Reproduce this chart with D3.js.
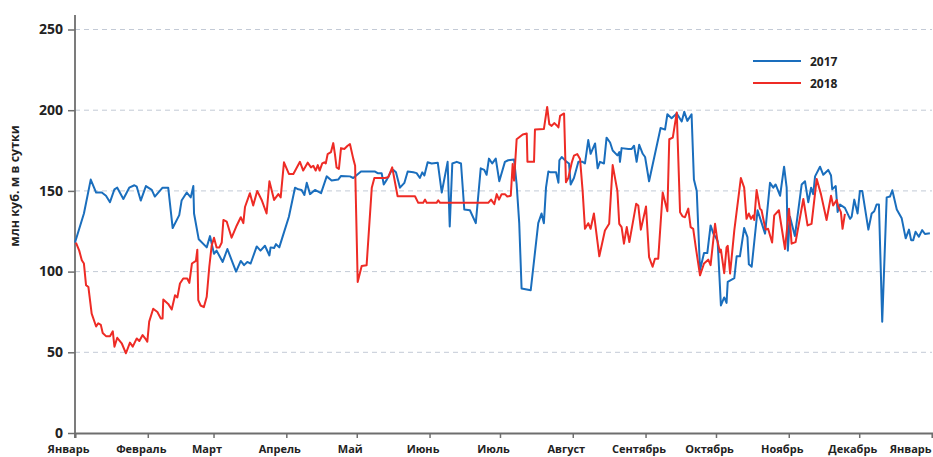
<!DOCTYPE html>
<html>
<head>
<meta charset="utf-8">
<script src="https://cdn.jsdelivr.net/npm/d3@7"></script>
<style>
  body { margin: 0; background: #fff; }
  text { font-family: "Open Sans", "Noto Sans", sans-serif; font-weight: bold; fill: #222; }
</style>
</head>
<body>
<script>
var w = 933;
var h = 457;

// months: label and first day of month (day of year)
var monthLabels = ["Январь", "Февраль", "Март", "Апрель", "Май", "Июнь", "Июль",
                   "Август", "Сентябрь", "Октябрь", "Ноябрь", "Декабрь", "Январь"];
var monthDays = [0, 31, 59, 90, 120, 151, 181, 212, 243, 273, 304, 334, 365];
var yTicks = [0, 50, 100, 150, 200, 250];
var seriesNames = ["2017", "2018"];

// 2017 (day of year, value)
var days2017 = [0, 3.8, 6.7, 9, 11.4, 13.2, 14.9, 16.8, 18, 20.6, 23.1, 25.3, 26.3, 28, 30.2, 32.7, 34, 37.3, 39.7,
  41.6, 44.4, 45.4, 47.6, 49.3, 50.4, 50.7, 52.7, 56.1, 57.5, 59.2, 60.3, 62.9, 64.9, 67.4, 68.6, 70.6, 72, 73.4,
  74.8, 77.4, 79, 80.9, 82.8, 83.3, 84.8, 85.6, 87, 88.5, 91.1, 93.7, 95.1, 96.5, 97.7, 98.7, 100.1, 102.2, 104.8,
  107.2, 109.3, 112.1, 113.3, 117.1, 118.5, 121.8, 127.8, 128.9, 130.6, 131.5, 132.8, 134.6, 135.6, 136.7, 138.4,
  140.3, 141.7, 144.1, 145.5, 146.9, 147.9, 148.8, 150.2, 151.9, 154.5, 156.2, 158.7, 159.6, 160.7, 162.6, 164.4,
  165.8, 168.2, 170.7, 172.8, 174.3, 175.3, 176.3, 177.7, 179.2, 180.7, 183.1, 184.5, 187, 188.1, 189.2, 190.2,
  194.1, 197.3, 198.7, 199.7, 200.6, 201.6, 202.6, 204.9, 205.9, 206.3, 207.3, 209.4, 210.4, 211.1, 212.5, 214.4,
  216.2, 217.2, 218.6, 219.6, 221.5, 222.6, 223.6, 225.3, 226.4, 227.9, 229, 231, 231.8, 232.1, 232.8, 235.7,
  237.1, 238.1, 239.2, 240.3, 241.8, 242.8, 244.5, 249.4, 251.3, 252.3, 254.1, 256.3, 258.4, 259.5, 260.8, 262.6,
  263.6, 264.8, 266.2, 267.9, 269.3, 270.7, 271.9, 273, 273.7, 275.1, 276.5, 277.5, 278, 280.8, 281.8, 283.2, 285,
  286.4, 287, 288.2, 290.7, 293.9, 296, 297.4, 298.4, 300.3, 302, 303.1, 303.6, 304.5, 306.6, 309.5, 310.9, 312.3,
  313.5, 314.4, 315.2, 317.3, 318.7, 320.8, 322, 322.5, 324, 324.8, 325.8, 327.9, 330.1, 330.8, 331.9, 333.3,
  334.3, 335.3, 337.9, 339.3, 340.4, 341.4, 342.4, 343.8, 345.7, 347.1, 348.1, 350, 352.1, 353.8, 355.2, 356.1,
  357, 358, 359.4, 360.8, 362, 364.1];
var values2017 = [118, 136, 157, 149, 149, 147, 143, 151, 152, 145, 152, 153.5, 152.6, 144, 153, 150.6, 146.5, 152, 152,
  127, 135, 144, 149, 146, 153, 136, 120, 115, 122, 111, 113, 106, 114, 104.5, 100, 106.6, 104, 106,
  105, 115.6, 113, 116, 110, 115, 114.6, 117, 115, 122, 134, 152, 151, 150.6, 147.5, 155, 148, 150.6, 148.6,
  159, 156.4, 157, 159.3, 159, 158, 162, 162, 161, 161, 154, 157, 162, 163, 161.5, 152,
  155, 162, 161.5, 161, 158, 161.5, 159.5, 167.7, 167, 167.5, 149, 168, 128, 167, 168, 167,
  138.5, 138, 130, 164, 163, 160, 170, 167, 170, 156, 168, 169, 169.5, 154, 130, 89.5,
  88.5, 130, 136, 130, 152, 162, 161.5, 161.5, 155, 169, 171, 168, 167, 154, 158, 168,
  168, 167, 181.5, 173, 179.4, 164, 168, 167, 183, 180, 175, 172, 174, 168, 176.5, 176,
  176, 178, 168, 178.6, 173, 171, 156, 189, 188, 197.5, 195, 198, 193, 199, 193.4, 197.5,
  157, 150, 101, 111.5, 111.5, 128.6, 123.5, 121, 119, 79, 84, 80.6, 93.6, 96, 109.5, 109.5, 127,
  121.4, 104.5, 103, 138, 123.5, 155, 152, 154, 147, 165, 152, 113, 134, 122, 154, 156, 143,
  152, 148, 159, 165, 160, 163, 159.5, 151, 153, 137, 141.6, 139.5, 132.7, 134, 144.6, 136,
  150, 150, 126, 136, 137.4, 141.6, 141.6, 69, 146, 146.5, 150.4, 138.5, 133, 120.6, 126, 119.5,
  119.5, 124.7, 121.6, 125.7, 123.3, 123.7];

// 2018 (day of year, value)
var days2018 = [0.4, 1.8, 2.9, 3.8, 4.7, 5.7, 7.1, 9, 9.9, 11, 11.8, 13.2, 14.9, 16.1, 16.8, 18, 19.9, 21.7, 23.4,
  24.6, 26.3, 27.4, 28.8, 30.2, 30.8, 31.6, 33.3, 35.1, 36.5, 37.3, 37.6, 39.7, 41.2, 42.6, 43.6, 44.7, 46.1,
  47.8, 48.7, 49.8, 51.5, 52.1, 52.5, 53.5, 54.9, 56.1, 57.2, 58.2, 59.2, 60.3, 61.5, 62.5, 63.2, 64.6, 66.7,
  68.9, 70.6, 71.7, 72.4, 74.5, 75.9, 77.6, 79.5, 81.6, 82.8, 84.8, 86.6, 87.6, 89, 91.1, 93, 95.8, 97.2, 99.1,
  100.5, 101.5, 102.5, 103.4, 104.2, 105.3, 106.2, 106.8, 107.6, 109, 110, 110.7, 111.4, 112.4, 113.3, 114.7,
  116.1, 117.1, 118.5, 119.3, 120.4, 122.1, 124.2, 126.4, 127.5, 132, 133.4, 135.1, 137.4, 144.8, 146.2, 148.3,
  149.1, 149.8, 154, 154.7, 155.5, 176, 177.2, 178.6, 179.6, 180.6, 181.7, 183.1, 184.1, 185.6, 186.4, 187,
  188.1, 190.7, 192.4, 192.7, 195.5, 195.9, 199.7, 201.1, 202, 203, 204.1, 205.1, 205.9, 206.6, 208.3, 209.1,
  210.1, 211.6, 212.5, 213.9, 215.1, 216.2, 217.2, 218.6, 219.6, 221, 223.3, 225.7, 227.5, 229, 231, 231.8,
  232.8, 233.8, 235, 236.1, 239, 239.9, 241, 243.2, 244.5, 246, 247, 248.4, 250.3, 252.3, 253.1, 254.6, 256.3,
  257.7, 258.8, 259.8, 261.2, 262.2, 263.3, 264.4, 266.2, 267.9, 269.7, 270.7, 272.6, 273.6, 274.7, 275.1,
  276.5, 277.5, 278, 279, 280.8, 283.6, 285, 286, 287, 287.9, 288.9, 289.3, 290.3, 291.7, 292.4, 294.1, 295.2,
  296.9, 297.8, 299.8, 302.4, 304.1, 305.2, 306.9, 310.2, 312, 313.7, 315.9, 317.7, 320.1, 322, 322.9, 324.4,
  325.1, 326.2, 326.9, 327.9];
var values2018 = [118, 113, 107, 105, 91.6, 90.5, 74, 66, 68, 67, 62, 60, 60, 63, 53.5, 59, 55.6, 49.4, 56,
  53.5, 58.6, 57, 60.7, 58, 56.6, 69, 77, 75, 71, 71, 82.7, 80, 76.5, 85.4, 84, 92.6, 95.7,
  95.7, 93, 105, 106.6, 113.6, 82.3, 79, 78, 84.4, 103, 116, 121, 115, 115, 118, 132, 131, 121,
  128.6, 133.7, 130, 140, 148.6, 141, 150, 144.4, 136, 156, 144.4, 148, 146, 167.7, 160.5, 160.5, 168, 162.6, 167.5,
  164.6, 165.6, 162.6, 166, 162.6, 167, 167.7, 167, 172.8, 174, 179.6, 172.8, 164.6, 163.6, 176.5, 176,
  178, 179, 170, 165.6, 93.6, 103.5, 104, 152, 158, 158, 158.4, 164.6, 146.7, 146.7, 142.6, 142.6,
  144.6, 142.6, 142.6, 144.2, 142.6, 142.6, 144.6, 141.8, 148, 144.6, 148, 148, 146.5, 147, 166.7, 156.4,
  182, 185, 185.6, 168, 168, 188, 188.3, 202, 191.4, 190.3, 192, 190.7, 189.3, 196.5, 198, 155.3,
  158, 167.7, 171.8, 172.8, 169.8, 150, 126.5, 130, 126.5, 136, 109.5, 125.5, 129.6, 166, 150, 129.6,
  127.6, 117.3, 127.6, 118.3, 142, 141, 126, 140.3, 109, 103, 108, 108, 149, 137.4, 182, 183, 198.6,
  136.8, 134.2, 133.7, 139, 127.6, 126.5, 115, 97.7, 105, 107.4, 104, 129.6, 119, 112, 113.6,
  99, 115, 116, 98.8, 125.5, 158, 152, 132.7, 136, 132.7, 134.8, 132, 150.6, 139, 138, 126, 126.5,
  118, 134.8, 138, 114, 139, 117.3, 118.3, 145, 128.6, 129.6, 157.4, 148, 132, 147, 141, 144.4,
  140.3, 136.8, 126.5, 135.8];

var colors = ["#1a6ebd", "#ee2b25"];

var svg = d3.select("body")
            .append("svg")
            .attr("width", w)
            .attr("height", h);

var x = d3.scaleLinear().domain([0, 365]).range([75, 932]);
var y = d3.scaleLinear().domain([0, 250]).range([433, 29.5]);

// dashed grid lines
svg.selectAll("line.grid")
   .data(yTicks.slice(1))
   .enter()
   .append("line")
   .attr("class", "grid")
   .attr("x1", x(0))
   .attr("x2", x(365))
   .attr("y1", function(d){ return y(d); })
   .attr("y2", function(d){ return y(d); })
   .attr("stroke", "#c3cad6")
   .attr("stroke-width", 1)
   .attr("stroke-dasharray", "5,4");

// left axis
var yAxis = svg.append("g")
   .attr("transform", "translate(" + x(0) + ",0)")
   .call(d3.axisLeft(y).tickValues(yTicks).tickSize(7).tickPadding(5));
yAxis.select(".domain").remove();
yAxis.selectAll("line").attr("stroke", "#6e6e6e").attr("stroke-width", 1.5);
yAxis.selectAll("text").attr("font-size", "14px").attr("fill", "#222").attr("dy", "0.3em");

svg.append("line")
   .attr("x1", x(0)).attr("x2", x(0))
   .attr("y1", 15).attr("y2", y(0) + 5)
   .attr("stroke", "#6e6e6e")
   .attr("stroke-width", 1.8);

// bottom axis
var last = monthDays.length - 1;
var xAxis = svg.append("g")
   .attr("transform", "translate(0," + y(0) + ")")
   .call(d3.axisBottom(x).tickValues(monthDays).tickSize(5).tickPadding(7)
           .tickFormat(function(d, i){ return monthLabels[i]; }));
xAxis.select(".domain").attr("stroke", "#6e6e6e").attr("stroke-width", 1.8);
xAxis.selectAll("line").attr("stroke", "#6e6e6e").attr("stroke-width", 1.5);
xAxis.selectAll("text")
     .attr("font-size", "11px")
     .attr("fill", "#222")
     .attr("dx", function(d, i){ return i == last ? 0 : -7; })
     .attr("text-anchor", function(d, i){ return i == last ? "end" : "middle"; })
     .attr("x", function(d, i){ return i == last ? -1 : 0; });

// y axis title
svg.append("text")
   .attr("transform", "translate(19,186) rotate(-90)")
   .attr("text-anchor", "middle")
   .attr("font-size", "12.5px")
   .text("млн куб. м в сутки");

// lines
var line = d3.line()
   .x(function(d){ return x(d[0]); })
   .y(function(d){ return y(d[1]); });

var series = [d3.zip(days2017, values2017), d3.zip(days2018, values2018)];

svg.selectAll("path.series")
   .data(series)
   .enter()
   .append("path")
   .attr("class", "series")
   .attr("d", line)
   .attr("fill", "none")
   .attr("stroke", function(d, i){ return colors[i]; })
   .attr("stroke-width", 2)
   .attr("stroke-linejoin", "round");

// legend
var legend = svg.selectAll("g.legend")
   .data(seriesNames)
   .enter()
   .append("g")
   .attr("class", "legend")
   .attr("transform", function(d, i){ return "translate(753," + (61 + i * 22) + ")"; });

legend.append("line")
   .attr("x1", 0).attr("x2", 48)
   .attr("stroke", function(d, i){ return colors[i]; })
   .attr("stroke-width", 2);

legend.append("text")
   .attr("x", 57)
   .attr("y", 4.5)
   .attr("font-size", "12px")
   .text(function(d){ return d; });
</script>
</body>
</html>
